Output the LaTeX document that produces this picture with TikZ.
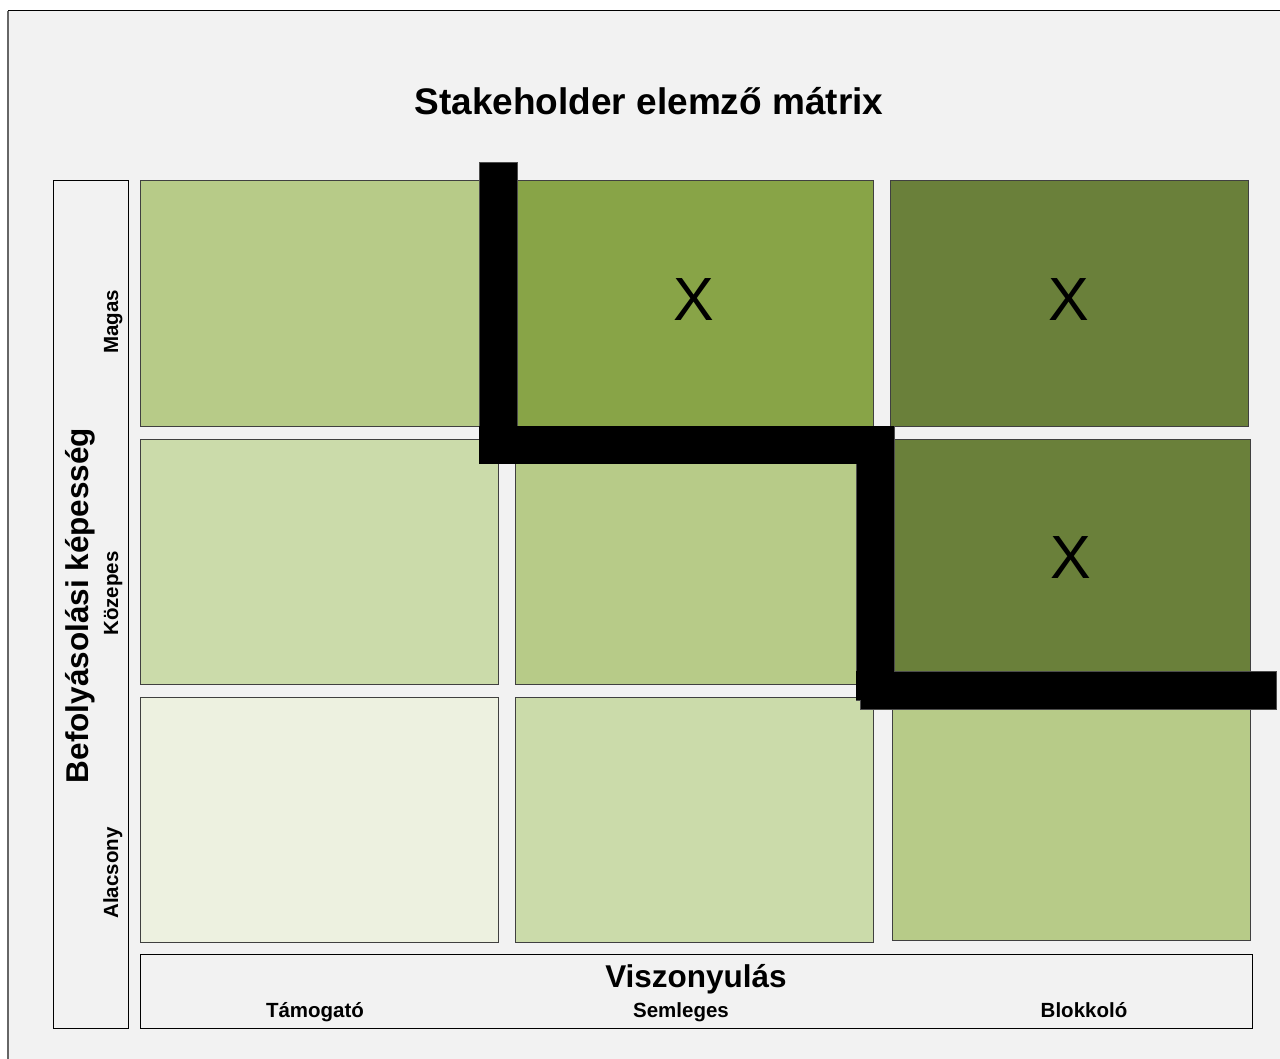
\documentclass[tikz,border=0pt]{standalone}
\usepackage{fontspec}
\setmainfont{Liberation Sans}
\definecolor{bg}{HTML}{F2F2F2}
\definecolor{gA}{HTML}{EDF1E0}
\definecolor{gB}{HTML}{CBDBAA}
\definecolor{gC}{HTML}{B7CB88}
\definecolor{gD}{HTML}{88A447}
\definecolor{gE}{HTML}{6A803A}
\definecolor{cellline}{HTML}{404040}
\tikzset{
  cell/.style={draw=cellline, line width=1pt, inner sep=0pt, minimum width=358pt, minimum height=245pt},
  xmark/.style={font=\fontsize{61}{61}\selectfont, inner sep=0pt, yshift=4pt},
  axisbox/.style={draw=black, line width=1pt, fill=bg, inner sep=0pt},
  bar/.style={fill=black, draw=black!70, line width=0.6pt},
  lbl/.style={font=\bfseries\fontsize{20.5}{22}\selectfont, inner sep=0pt, anchor=base},
  biglbl/.style={font=\bfseries\fontsize{31.5}{33}\selectfont, inner sep=0pt, anchor=base},
}
\begin{document}
\begin{tikzpicture}[x=1pt,y=-1pt]
\useasboundingbox (0,0) rectangle (1280,1059);
\fill[white] (0,0) rectangle (1280,1059);
\fill[bg] (8,11) rectangle (1280,1059);
\draw[black, line width=1pt] (8,11) -- (1280,11);
\draw[black!60, line width=1.6pt] (8,11) -- (8,1059);

\node[font=\bfseries\fontsize{37}{39}\selectfont, inner sep=0pt, anchor=base] (title) at (649,115) {Stakeholder elemző mátrix};

% axis boxes
\node[axisbox, minimum width=75pt, minimum height=847pt] (yaxis) at (90.5,604.5) {};
\node[axisbox, minimum width=1112pt, minimum height=74pt] (xaxis) at (696,991) {};

\node[biglbl, rotate=90] (ytitle) at (88,605.5) {Befolyásolási képesség};
\node[lbl, rotate=90] (ymag) at (118,322) {Magas};
\node[lbl, rotate=90] (ykoz) at (118,593.5) {Közepes};
\node[lbl, rotate=90] (yala) at (118,873) {Alacsony};

\node[biglbl] (xtitle) at (696,987) {Viszonyulás};
\node[lbl] (xtam) at (315,1017) {Támogató};
\node[lbl] (xsem) at (681,1017) {Semleges};
\node[lbl] (xblo) at (1084,1017) {Blokkoló};

% cells
\node[cell, fill=gC] (c11) at (319,303.5) {};
\node[cell, fill=gD] (c12) at (694,303.5) {};
\node[cell, fill=gE] (c13) at (1069,303.5) {};
\node[cell, fill=gB] (c21) at (319,561.5) {};
\node[cell, fill=gC] (c22) at (694,561.5) {};
\node[cell, fill=gE] (c23) at (1071,561.5) {};
\node[cell, fill=gA] (c31) at (319,819.5) {};
\node[cell, fill=gB] (c32) at (694,819.5) {};
\node[cell, fill=gC, minimum height=243pt] (c33) at (1071,818.5) {};

\node[xmark] (x12) at (c12.center) {X};
\node[xmark] (x13) at (c13.center) {X};
\node[xmark] (x23) at (c23.center) {X};

% thick staircase line
\draw[bar] (479,162) rectangle (517,463);
\draw[bar] (856,426) rectangle (894,700);
\fill[black] (479,426) rectangle (894,464);
\draw[bar] (860,671) rectangle (1276,709);
\fill[black] (856,671) rectangle (894,700);
\end{tikzpicture}
\end{document}
